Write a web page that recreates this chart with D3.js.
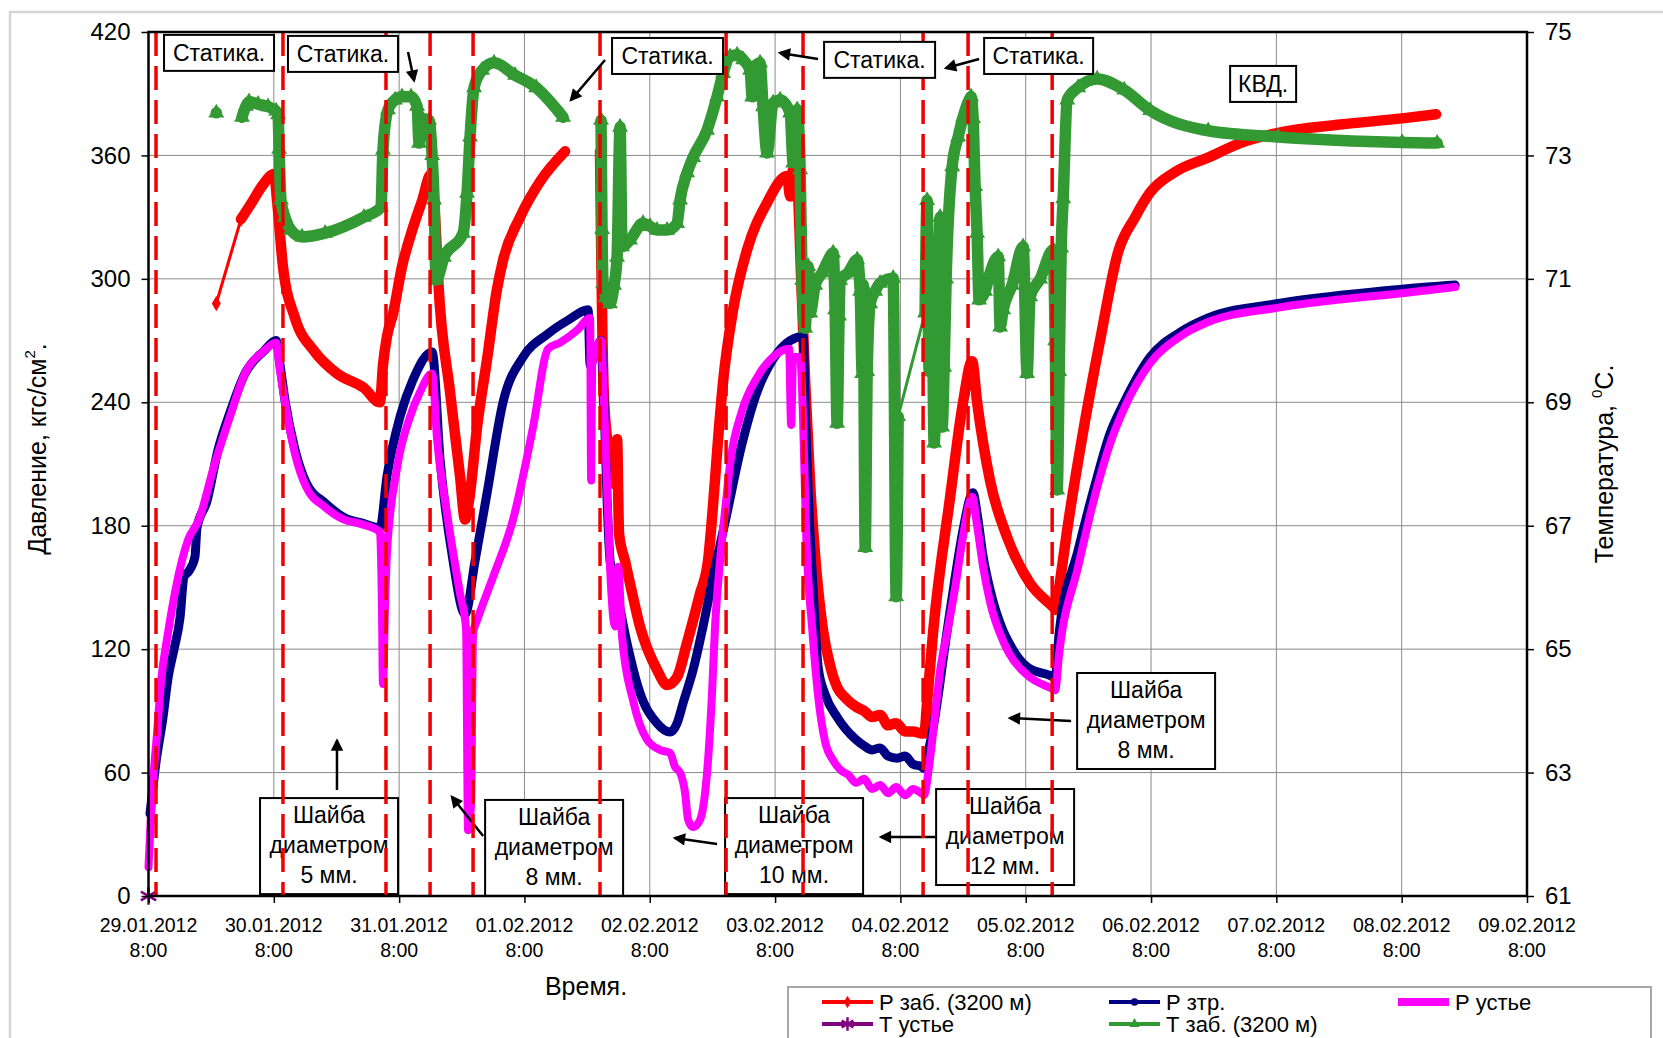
<!DOCTYPE html>
<html>
<head>
<meta charset="utf-8">
<script src="https://cdn.jsdelivr.net/npm/d3@7"></script>
<style>
  html, body { margin: 0; padding: 0; background: #fff; }
  svg { display: block; }
</style>
</head>
<body>
<svg id="chart" width="1663" height="1038"></svg>
<script>
// ---------- data ----------
const startStamp = "29.01.2012 08:00";
const dayTicks = ["29.01.2012", "30.01.2012", "31.01.2012", "01.02.2012", "02.02.2012", "03.02.2012",
                  "04.02.2012", "05.02.2012", "06.02.2012", "07.02.2012", "08.02.2012", "09.02.2012"];
const tickHour = "8:00";
const pressureTicks = [0, 60, 120, 180, 240, 300, 360, 420];
const tempTicks = [61, 63, 65, 67, 69, 71, 73, 75];

const seriesNames = ["Р заб. (3200 м)", "Р зтр.", "Р устье", "Т устье", "Т заб. (3200 м)"];

// [days since 29.01.2012 8:00, value]; null = break in the record
// Р заб. (3200 м), кгс/см2 — the first two readings are sparse
const pBottom = [
  [0.541, 288], [0.738, 329], [0.818, 336.5], [0.905, 345], [1.002, 351], [1.026, 338], [1.073, 306],
  [1.169, 281], [1.321, 265], [1.504, 254], [1.719, 247], [1.847, 240], [1.871, 258], [1.903, 272],
  [1.951, 283], [2.023, 306], [2.111, 325], [2.183, 338], [2.255, 351], [2.287, 330], [2.311, 300],
  [2.406, 245], [2.486, 204], [2.526, 183], [2.566, 196], [2.622, 228], [2.702, 261], [2.781, 295],
  [2.829, 309], [2.965, 330], [3.132, 348], [3.324, 362],
  null,
  [3.603, 362], [3.611, 320], [3.635, 241], [3.691, 209], [3.723, 200], [3.739, 222], [3.755, 176],
  [3.802, 163], [3.842, 152], [3.922, 131], [4.058, 110], [4.138, 102.6], [4.218, 106.5], [4.297, 123],
  [4.401, 147], [4.465, 163], [4.505, 190], [4.545, 222], [4.585, 250], [4.665, 285], [4.776, 314],
  [4.936, 337], [5.096, 350], [5.120, 340], [5.144, 353], [5.168, 352], [5.184, 340], [5.208, 300],
  [5.240, 250], [5.280, 200], [5.327, 160], [5.383, 129], [5.439, 112], [5.495, 101.5], [5.567, 96],
  [5.646, 92], [5.710, 90], [5.774, 87], [5.838, 88], [5.902, 83], [5.966, 84], [6.038, 80],
  [6.102, 80], [6.166, 79], [6.190, 79], [6.214, 95], [6.262, 129], [6.397, 194], [6.500, 240],
  [6.572, 260], [6.612, 240], [6.715, 202], [6.851, 174.5], [7.035, 152], [7.219, 140.5], [7.243, 139],
  [7.267, 150], [7.331, 178], [7.459, 226], [7.593, 270], [7.737, 313], [7.873, 330], [7.993, 342],
  [8.193, 352], [8.456, 359], [8.712, 366], [9.015, 371], [9.510, 375], [10.004, 378], [10.275, 380]
];
const sparseHead = 2;

// Р зтр., кгс/см2
const pTubing = [
  [0.012, 40], [0.060, 65], [0.116, 87], [0.156, 106], [0.204, 120], [0.251, 135], [0.283, 155],
  [0.323, 158], [0.371, 165], [0.387, 179], [0.467, 192], [0.555, 217], [0.650, 235], [0.770, 254],
  [0.922, 265], [1.018, 270], [1.050, 258], [1.089, 241], [1.169, 217], [1.257, 201], [1.409, 191],
  [1.560, 184], [1.719, 181], [1.847, 179], [1.903, 204], [2.007, 233], [2.111, 251], [2.263, 264.5],
  [2.327, 212], [2.430, 163], [2.526, 137], [2.606, 163], [2.702, 196], [2.829, 240], [2.989, 262],
  [3.180, 273], [3.350, 280], [3.508, 285], [3.524, 258], [3.556, 262], [3.611, 270], [3.635, 240],
  [3.659, 193], [3.683, 163], [3.739, 147], [3.818, 123], [3.922, 98.7], [4.058, 84], [4.162, 79.7],
  [4.218, 84], [4.266, 93.8], [4.346, 110], [4.425, 131], [4.505, 155], [4.609, 184], [4.729, 218],
  [4.856, 245], [4.984, 261], [5.120, 270], [5.224, 272], [5.240, 238], [5.256, 209], [5.280, 175],
  [5.312, 140], [5.344, 111], [5.399, 98], [5.495, 87], [5.646, 76], [5.710, 73], [5.774, 71],
  [5.838, 72], [5.902, 68], [5.974, 67], [6.038, 68], [6.102, 64], [6.166, 63], [6.190, 62],
  [6.222, 70], [6.262, 82], [6.373, 129], [6.437, 155], [6.500, 178], [6.580, 196], [6.612, 186],
  [6.660, 165], [6.715, 149], [6.819, 129], [6.867, 123], [7.019, 111], [7.203, 107], [7.235, 106],
  [7.267, 128], [7.418, 168], [7.554, 200], [7.674, 225], [7.786, 240], [7.993, 262], [8.232, 274],
  [8.456, 281], [9.015, 288], [9.510, 292], [10.004, 295], [10.427, 297]
];

// Р устье, кгс/см2
const pHead = [
  [0.000, 14], [0.012, 30], [0.036, 55], [0.068, 79], [0.100, 104], [0.156, 128], [0.219, 150],
  [0.315, 173], [0.403, 183], [0.523, 209], [0.650, 233], [0.770, 254], [0.922, 265], [1.018, 269],
  [1.050, 255], [1.089, 240], [1.169, 215], [1.257, 199], [1.409, 189], [1.560, 183], [1.688, 181],
  [1.847, 177], [1.863, 140], [1.871, 103], [1.887, 140], [1.903, 167], [1.983, 208], [2.087, 233],
  [2.167, 245], [2.263, 254], [2.303, 222], [2.382, 186], [2.486, 147], [2.534, 130], [2.550, 32],
  [2.574, 45], [2.590, 128], [2.622, 134], [2.749, 155], [2.909, 183], [3.069, 228], [3.189, 266],
  [3.284, 269], [3.420, 275], [3.524, 281], [3.532, 202], [3.540, 258], [3.556, 262], [3.611, 270],
  [3.635, 240], [3.659, 200], [3.683, 160], [3.723, 131], [3.747, 160], [3.779, 126], [3.867, 95],
  [3.978, 76], [4.082, 71], [4.162, 69.5], [4.202, 62.7], [4.242, 60], [4.282, 50], [4.306, 37],
  [4.346, 33.5], [4.401, 37], [4.441, 50], [4.465, 66], [4.497, 99], [4.521, 131], [4.561, 163],
  [4.609, 192], [4.641, 210], [4.737, 236], [4.856, 252], [4.984, 262], [5.112, 266], [5.128, 229],
  [5.144, 262], [5.200, 262], [5.224, 230], [5.248, 176], [5.296, 130], [5.344, 97], [5.399, 75],
  [5.463, 66], [5.527, 61], [5.583, 59], [5.646, 55], [5.710, 57], [5.774, 52], [5.838, 54],
  [5.902, 50], [5.966, 53], [6.038, 49], [6.102, 52], [6.166, 50], [6.190, 49], [6.222, 60],
  [6.262, 80], [6.318, 110], [6.373, 128], [6.437, 150], [6.500, 175], [6.572, 194], [6.612, 180],
  [6.660, 160], [6.715, 143], [6.819, 124], [6.867, 118], [7.019, 107], [7.203, 101], [7.235, 100],
  [7.267, 118], [7.418, 160], [7.554, 195], [7.674, 220], [7.786, 237], [7.993, 259], [8.232, 272],
  [8.456, 279], [9.015, 286], [9.510, 290], [10.004, 293], [10.427, 296]
];

// Т устье, °C
const tHead = [[0.000, 61]];

// Т заб. (3200 м), °C
const tBottom = [
  [0.541, 73.69],
  null,
  [0.746, 73.62], [0.778, 73.80], [0.802, 73.87], [0.874, 73.83], [0.954, 73.79], [1.018, 73.72],
  [1.034, 73.66], [1.042, 73.10], [1.057, 72.28], [1.089, 72.00], [1.137, 71.79], [1.225, 71.68],
  [1.409, 71.74], [1.719, 72.00], [1.855, 72.16], [1.871, 73.09], [1.911, 73.74], [1.967, 73.90],
  [2.023, 73.95], [2.095, 73.95], [2.143, 73.80], [2.159, 73.20], [2.183, 73.60], [2.239, 73.57],
  [2.263, 73.00], [2.279, 72.28], [2.295, 70.98], [2.358, 71.35], [2.510, 71.74], [2.542, 72.39],
  [2.566, 73.30], [2.598, 74.10], [2.662, 74.38], [2.757, 74.50], [2.925, 74.30], [3.093, 74.10],
  [3.308, 73.62],
  null,
  [3.611, 73.57], [3.619, 71.80], [3.627, 70.93], [3.651, 70.70], [3.683, 70.60], [3.715, 70.90],
  [3.739, 71.35], [3.763, 73.46], [3.779, 71.52], [3.842, 71.63], [3.946, 71.90], [4.002, 71.85],
  [4.058, 71.79], [4.138, 71.79], [4.218, 71.90], [4.242, 72.28], [4.298, 72.72], [4.346, 72.97],
  [4.457, 73.41], [4.537, 73.95], [4.585, 74.33], [4.641, 74.60], [4.697, 74.63], [4.745, 74.55],
  [4.801, 74.38], [4.817, 73.95], [4.825, 74.38], [4.880, 74.50], [4.904, 73.79], [4.936, 73.04],
  [4.984, 73.85], [5.040, 73.90], [5.120, 73.69], [5.144, 72.88], [5.176, 73.74], [5.200, 72.77],
  [5.216, 70.98], [5.240, 70.20], [5.264, 71.20], [5.280, 70.45], [5.320, 70.90], [5.375, 71.10],
  [5.423, 71.30], [5.463, 71.42], [5.479, 70.50], [5.495, 68.66], [5.511, 70.40], [5.519, 70.98],
  [5.583, 71.10], [5.655, 71.31], [5.679, 70.80], [5.695, 69.47], [5.703, 70.90], [5.719, 66.65],
  [5.735, 69.50], [5.759, 70.60], [5.799, 70.80], [5.838, 70.93], [5.942, 71.01], [5.966, 65.85],
  [5.982, 68.77],
  null,
  [6.197, 70.45], [6.213, 72.27], [6.229, 69.50], [6.253, 70.50], [6.269, 68.34],
  [6.293, 70.00], [6.317, 72.00], [6.333, 68.60], [6.349, 69.57], [6.365, 71.00], [6.413, 72.82],
  [6.461, 73.30], [6.500, 73.62], [6.548, 73.90], [6.564, 73.95], [6.580, 73.60], [6.596, 72.50],
  [6.612, 71.74], [6.628, 70.66], [6.676, 70.80], [6.716, 71.10], [6.780, 71.36], [6.796, 70.22],
  [6.820, 70.50], [6.891, 70.90], [6.979, 71.52], [7.011, 69.47], [7.035, 70.71], [7.115, 71.00],
  [7.219, 71.47], [7.235, 70.00], [7.251, 67.58], [7.267, 69.50], [7.283, 71.50], [7.299, 72.30],
  [7.331, 73.90], [7.418, 74.10], [7.570, 74.24], [7.786, 74.06], [7.993, 73.73], [8.456, 73.40],
  [9.015, 73.30], [10.004, 73.21], [10.283, 73.20]
];
// stretches of Т заб. where readings are sparse: joined by a thin line only
const tSparseLinks = [[5.982, 6.197]];

// moments when the well regime was switched, days since start
const regimeChanges = [0.060, 1.073, 1.895, 2.247, 2.590, 3.603, 4.609, 5.223, 6.181, 6.540, 7.211];

// callouts: anchor = top-left corner in (days, кгс/см2)
const topNotes = [
  { text: "Статика.", day: 0.124, p: 418.6, w: 110 },
  { text: "Статика.", day: 1.113, p: 418.1, w: 110 },
  { text: "Статика.", day: 3.699, p: 417.1, w: 111 },
  { text: "Статика.", day: 5.391, p: 415.2, w: 111 },
  { text: "Статика.", day: 6.668, p: 417.1, w: 109 },
  { text: "КВД.",     day: 8.631, p: 403.5, w: 66 }
];
const chokeNotes = [
  { size: "5 мм.",  day: 0.890, p: 47.6,  arrow: [[1.504, 51.5], [1.504, 75.5]] },
  { size: "8 мм.",  day: 2.686, p: 46.7,  arrow: [[2.670, 29.2], [2.422, 48.1]] },
  { size: "10 мм.", day: 4.601, p: 47.6,  arrow: [[4.537, 25.3], [4.202, 28.2]] },
  { size: "12 мм.", day: 6.285, p: 52.0,  arrow: [[6.277, 28.7], [5.846, 28.7]] },
  { size: "8 мм.",  day: 7.410, p: 108.4, arrow: [[7.362, 85.1], [6.875, 86.5]] }
];
const staticArrows = [
  [[2.071, 410.3], [2.119, 396.5]],
  [[3.643, 406.4], [3.372, 387.0]],
  [[5.343, 406.9], [5.040, 409.8]],
  [[6.628, 406.9], [6.365, 402.5]]
];

// ---------- setup ----------
const FONT = "'Liberation Sans', Arial, sans-serif";
const RED = "#ff0000", NAVY = "#000080", MAGENTA = "#ff00ff", PURPLE = "#800080", GREEN = "#339933";

const parse = d3.timeParse("%d.%m.%Y %H:%M");
const t0 = parse(startStamp);
const toDate = d => new Date(t0.getTime() + d * 864e5);
const tickDates = dayTicks.map(s => parse(s + " 08:00"));

const plot = { left: 148.5, right: 1527, top: 32, bottom: 896 };
const x = d3.scaleTime().domain([tickDates[0], tickDates[tickDates.length - 1]]).range([plot.left, plot.right]);
const yP = d3.scaleLinear().domain([0, 420]).range([plot.bottom, plot.top]);
const yT = d3.scaleLinear().domain([61, 75]).range([plot.bottom, plot.top]);

const svg = d3.select("#chart").attr("font-family", FONT);

const defs = svg.append("defs");
defs.append("marker").attr("id", "arrowHead")
  .attr("viewBox", "0 0 10 10").attr("refX", 8).attr("refY", 5)
  .attr("markerWidth", 5.5).attr("markerHeight", 5).attr("orient", "auto")
  .append("path").attr("d", "M0,0L10,5L0,10Z").attr("fill", "#000");

// chart area frame
svg.append("path")
  .attr("d", "M10,1038V12H1663")
  .attr("fill", "none").attr("stroke", "#d4d4d4").attr("stroke-width", 2.5);

// ---------- grid ----------
const grid = svg.append("g").attr("stroke", "#8a8a8a").attr("stroke-width", 1);
grid.selectAll(".h").data(pressureTicks.slice(1, -1)).join("line")
  .attr("x1", plot.left).attr("x2", plot.right)
  .attr("y1", d => yP(d)).attr("y2", d => yP(d));
grid.selectAll(".v").data(tickDates.slice(1, -1)).join("line")
  .attr("x1", d => x(d)).attr("x2", d => x(d))
  .attr("y1", plot.top).attr("y2", plot.bottom);

// ---------- series ----------
const lineP = d3.line().defined(d => d !== null).curve(d3.curveMonotoneX)
  .x(d => x(toDate(d[0]))).y(d => yP(d[1]));
const lineT = d3.line().defined(d => d !== null).curve(d3.curveMonotoneX)
  .x(d => x(toDate(d[0]))).y(d => yT(d[1]));
const thick = (g, data, gen, color, w) => g.append("path").datum(data).attr("d", gen)
  .attr("fill", "none").attr("stroke", color).attr("stroke-width", w)
  .attr("stroke-linejoin", "round").attr("stroke-linecap", "round");

const series = svg.append("g");

// Р заб.: thin link over sparse readings, thick trace over dense ones
thick(series, pBottom.slice(0, sparseHead), lineP, RED, 3);
thick(series, pBottom.slice(sparseHead - 1), lineP, RED, 10.5);
series.selectAll(".rd").data(pBottom.slice(0, sparseHead)).join("path")
  .attr("transform", d => `translate(${x(toDate(d[0]))},${yP(d[1])})`)
  .attr("d", d3.symbol(d3.symbolDiamond, 70)).attr("fill", RED);

// Р зтр.
thick(series, pTubing, lineP, NAVY, 9);
series.selectAll(".bd").data(pTubing).join("circle")
  .attr("cx", d => x(toDate(d[0]))).attr("cy", d => yP(d[1])).attr("r", 3.5).attr("fill", NAVY);

// Р устье
thick(series, pHead, lineP, MAGENTA, 8);

// Т устье
series.selectAll(".th").data(tHead).join("path")
  .attr("transform", d => `translate(${x(toDate(d[0]))},${yT(d[1])})`)
  .attr("d", d3.symbol(d3.symbolAsterisk, 220))
  .attr("fill", "none").attr("stroke", PURPLE).attr("stroke-width", 2.5);

// Т заб.
const tPoints = tBottom.filter(d => d !== null);
tSparseLinks.forEach(([a, b]) => {
  const ends = tPoints.filter(d => d[0] === a || d[0] === b);
  thick(series, ends, lineT, GREEN, 3);
});
thick(series, tBottom, lineT, GREEN, 11.5);
series.selectAll(".gt").data(tPoints).join("path")
  .attr("transform", d => `translate(${x(toDate(d[0]))},${yT(d[1])})`)
  .attr("d", d3.symbol(d3.symbolTriangle, 110)).attr("fill", GREEN);

// ---------- choke callouts (below the switch markers) ----------
const noteG = svg.append("g");
chokeNotes.forEach(n => {
  const x0 = x(toDate(n.day)), y0 = yP(n.p), w = 138, h = 96;
  noteG.append("rect").attr("x", x0).attr("y", y0).attr("width", w).attr("height", h)
    .attr("fill", "#fff").attr("stroke", "#000").attr("stroke-width", 2);
  ["Шайба", "диаметром", n.size].forEach((s, i) =>
    noteG.append("text").attr("x", x0 + w / 2).attr("y", y0 + 25 + i * 30)
      .attr("text-anchor", "middle").attr("font-size", 23).attr("fill", "#000").text(s));
  noteG.append("line")
    .attr("x1", x(toDate(n.arrow[0][0]))).attr("y1", yP(n.arrow[0][1]))
    .attr("x2", x(toDate(n.arrow[1][0]))).attr("y2", yP(n.arrow[1][1]))
    .attr("stroke", "#000").attr("stroke-width", 2.5).attr("marker-end", "url(#arrowHead)");
});

// ---------- regime switch markers ----------
svg.append("g").selectAll("line").data(regimeChanges).join("line")
  .attr("x1", d => x(toDate(d))).attr("x2", d => x(toDate(d)))
  .attr("y1", plot.top).attr("y2", plot.bottom)
  .attr("stroke", "#f00000").attr("stroke-width", 3.5).attr("stroke-dasharray", "24,10");

// ---------- static-period callouts ----------
const topG = svg.append("g");
topNotes.forEach(n => {
  const x0 = x(toDate(n.day)), y0 = yP(n.p), h = 36;
  topG.append("rect").attr("x", x0).attr("y", y0).attr("width", n.w).attr("height", h)
    .attr("fill", "#fff").attr("stroke", "#000").attr("stroke-width", 2);
  topG.append("text").attr("x", x0 + n.w / 2).attr("y", y0 + 26)
    .attr("text-anchor", "middle").attr("font-size", 23).attr("fill", "#000").text(n.text);
});
staticArrows.forEach(a => {
  topG.append("line")
    .attr("x1", x(toDate(a[0][0]))).attr("y1", yP(a[0][1]))
    .attr("x2", x(toDate(a[1][0]))).attr("y2", yP(a[1][1]))
    .attr("stroke", "#000").attr("stroke-width", 2.5).attr("marker-end", "url(#arrowHead)");
});

// ---------- plot frame and axes ----------
svg.append("rect").attr("x", plot.left).attr("y", plot.top)
  .attr("width", plot.right - plot.left).attr("height", plot.bottom - plot.top)
  .attr("fill", "none").attr("stroke", "#000").attr("stroke-width", 2.5);

const gL = svg.append("g").attr("transform", `translate(${plot.left},0)`)
  .call(d3.axisLeft(yP).tickValues(pressureTicks).tickSize(7).tickPadding(11));
const gR = svg.append("g").attr("transform", `translate(${plot.right},0)`)
  .call(d3.axisRight(yT).tickValues(tempTicks).tickSize(7).tickPadding(11));
const gB = svg.append("g").attr("transform", `translate(0,${plot.bottom})`)
  .call(d3.axisBottom(x).tickValues(tickDates).tickSize(7).tickFormat(""));
[gL, gR, gB].forEach(g => {
  g.select(".domain").remove();
  g.attr("font-family", FONT).attr("font-size", 24);
  g.selectAll(".tick line").attr("stroke", "#000").attr("stroke-width", 1.5);
  g.selectAll(".tick text").attr("fill", "#000");
});

// two-line date labels
const xl = svg.append("g").attr("font-size", 19.5).attr("text-anchor", "middle").attr("fill", "#000");
tickDates.forEach((d, i) => {
  const t = xl.append("text").attr("x", x(d));
  t.append("tspan").attr("x", x(d)).attr("y", 932).text(dayTicks[i]);
  t.append("tspan").attr("x", x(d)).attr("y", 957).text(tickHour);
});

// axis titles
svg.append("text").attr("x", 586).attr("y", 995).attr("text-anchor", "middle")
  .attr("font-size", 25).attr("fill", "#000").text("Время.");

const tl = svg.append("text").attr("transform", "translate(46,449) rotate(-90)")
  .attr("text-anchor", "middle").attr("font-size", 25).attr("fill", "#000");
tl.append("tspan").text("Давление, кгс/см");
tl.append("tspan").attr("font-size", 15).attr("dy", -11).text("2");
tl.append("tspan").attr("dy", 11).text(".");

const tr = svg.append("text").attr("transform", "translate(1613,464) rotate(-90)")
  .attr("text-anchor", "middle").attr("font-size", 25).attr("fill", "#000");
tr.append("tspan").text("Температура, ");
tr.append("tspan").attr("font-size", 15).attr("dy", -11).text("0");
tr.append("tspan").attr("dy", 11).text("С.");

// ---------- legend ----------
const lg = svg.append("g");
lg.append("rect").attr("x", 788).attr("y", 987).attr("width", 863).attr("height", 70)
  .attr("fill", "#fff").attr("stroke", "#a8a8a8").attr("stroke-width", 2);
const legendItems = [
  { name: seriesNames[0], color: RED,     w: 4, mark: d3.symbolDiamond,  fill: true,  x0: 822,  y: 1002 },
  { name: seriesNames[1], color: NAVY,    w: 4, mark: d3.symbolCircle,   fill: true,  x0: 1109, y: 1002 },
  { name: seriesNames[2], color: MAGENTA, w: 8, mark: null,              fill: true,  x0: 1398, y: 1002 },
  { name: seriesNames[3], color: PURPLE,  w: 4, mark: d3.symbolAsterisk, fill: false, x0: 822,  y: 1024 },
  { name: seriesNames[4], color: GREEN,   w: 4, mark: d3.symbolTriangle, fill: true,  x0: 1109, y: 1024 }
];
legendItems.forEach(it => {
  lg.append("line").attr("x1", it.x0).attr("x2", it.x0 + 51).attr("y1", it.y).attr("y2", it.y)
    .attr("stroke", it.color).attr("stroke-width", it.w);
  if (it.mark) {
    const s = lg.append("path").attr("transform", `translate(${it.x0 + 25.5},${it.y})`)
      .attr("d", d3.symbol(it.mark, it.fill ? 45 : 130));
    if (it.fill) s.attr("fill", it.color);
    else s.attr("fill", "none").attr("stroke", it.color).attr("stroke-width", 2.5);
  }
  lg.append("text").attr("x", it.x0 + 57).attr("y", it.y + 8)
    .attr("font-size", 22).attr("fill", "#000").text(it.name);
});
</script>
</body>
</html>
